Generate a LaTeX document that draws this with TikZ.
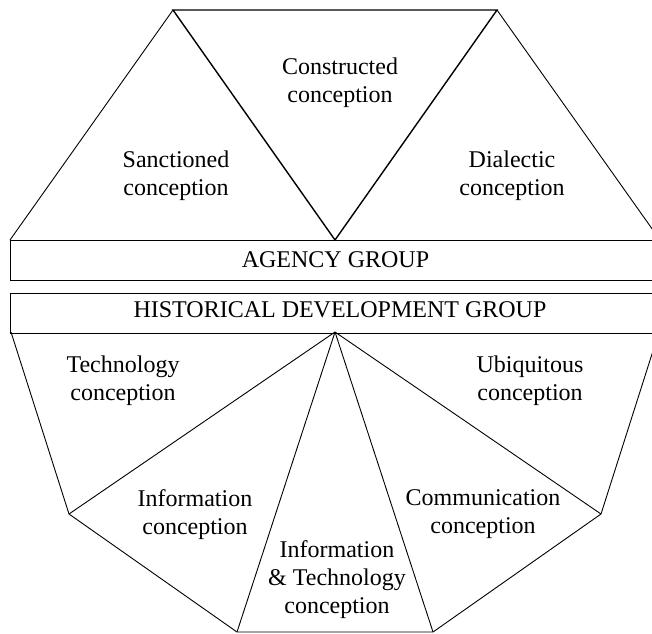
\documentclass[tikz,border=0pt]{standalone}
\usepackage{fontspec}
\setmainfont{Liberation Serif}
\begin{document}
\begin{tikzpicture}[x=1pt,y=-1pt,
  edge/.style={line width=0.9pt,line join=miter},
  heavy/.style={line width=1.4pt,line join=miter},
  label/.style={align=center,font=\fontsize{24}{28}\selectfont,inner sep=0pt,text=black},
  bandbox/.style={draw,line width=0.9pt,minimum width=650pt,minimum height=40pt,inner sep=0pt,
    font=\fontsize{24}{28}\selectfont,text=black}]
\useasboundingbox (0,0) rectangle (652,633);
\begin{scope}
\clip (0,0) rectangle (652,633);
% upper triangles
\coordinate (tl) at (10,240);
\coordinate (ta) at (173,10);
\coordinate (tb) at (497,10);
\coordinate (tm) at (335,240);
\coordinate (tr) at (660,240);
\draw[edge] (tl) -- (ta);
\draw[heavy] (ta) -- (tb) -- (tm) -- cycle;
\draw[edge] (tb) -- (tr);
% group bands
\node[bandbox,anchor=north west] (agency) at (10,239.5) {AGENCY GROUP};
\node[bandbox,anchor=north west] (hist) at (10,292.5) {};
% lower fan
\coordinate (apex) at (335,332);
\coordinate (l1) at (11,332);
\coordinate (l2) at (69,514);
\coordinate (b1) at (237,632);
\coordinate (b2) at (433,632);
\coordinate (r2) at (601,514);
\coordinate (r1) at (659,332);
\draw[edge] (l1) -- (l2) -- (b1) -- (b2) -- (r2) -- (r1);
\draw[edge] (apex) -- (l2);
\draw[edge] (apex) -- (b1);
\draw[edge] (apex) -- (b2);
\draw[edge] (apex) -- (r2);
\end{scope}
\node[label] (hlabel) at (340,310) {HISTORICAL DEVELOPMENT GROUP};
% labels
\node[label] (constructed) at (340,83) {Constructed\\conception};
\node[label] (sanctioned) at (176,175.5) {Sanctioned\\conception};
\node[label] (dialectic) at (512,175.5) {Dialectic\\conception};
\node[label] (technology) at (123,381) {Technology\\conception};
\node[label] (ubiquitous) at (530,381) {Ubiquitous\\conception};
\node[label] (information) at (195,515) {Information\\conception};
\node[label] (communication) at (483,514) {Communication\\conception};
\node[label] (infotech) at (337,579.5) {Information\\\& Technology\\conception};
\end{tikzpicture}
\end{document}
